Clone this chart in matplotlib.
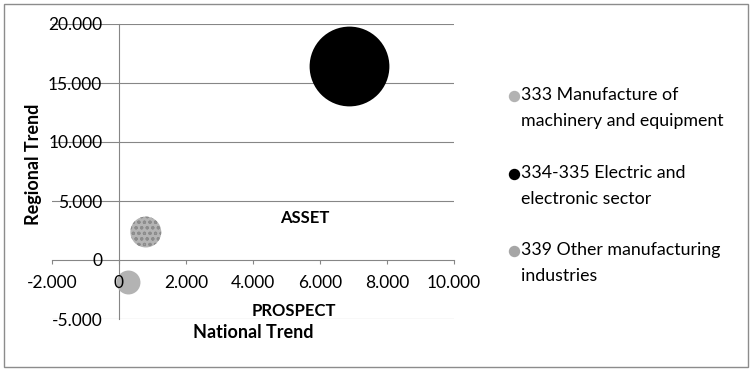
import matplotlib
matplotlib.use("Agg")
import matplotlib.pyplot as plt
from matplotlib.lines import Line2D
from matplotlib.patches import Rectangle
from matplotlib.ticker import FuncFormatter

plt.rcParams['font.family'] = ['Lato', 'DejaVu Sans']
plt.rcParams['hatch.linewidth'] = 0.8

# Bubble data: national trend (x), regional trend (y), relative bubble size
sectors = ["333 Manufacture of\nmachinery and equipment",
           "334-335 Electric and\nelectronic sector",
           "339 Other manufacturing\nindustries"]
national_trend = [270, 6870, 800]
regional_trend = [-1850, 16450, 2370]
bubble_size = [9, 100, 15]

x_ticks = [-2000, 0, 2000, 4000, 6000, 8000, 10000]
y_ticks = [-5000, 0, 5000, 10000, 15000, 20000]

W, H, DPI = 752, 371, 100
fig = plt.figure(figsize=(W / DPI, H / DPI), dpi=DPI)

def px(x, y):
    return x / W, 1 - y / H

left, top = px(52, 24)
right, bottom = px(454, 319)
ax = fig.add_axes([left, bottom, right - left, top - bottom])
ax.set_xlim(x_ticks[0], x_ticks[-1])
ax.set_ylim(y_ticks[0], y_ticks[-1])
ax.patch.set_visible(False)

grid_c = "#868686"
# horizontal gridlines behind bubbles
for yv in y_ticks:
    if yv != 0:
        ax.axhline(yv, color=grid_c, lw=0.8, zorder=0.5)

# bubbles (area proportional to size)
scale = 33.0
styles = [dict(color="#b3b3b3"),
          dict(color="#000000"),
          dict(color="#b4b4b4", hatch="ooo", edgecolor="#8c8c8c")]
for xv, yv, sv, st in zip(national_trend, regional_trend, bubble_size, styles):
    if "hatch" in st:
        ax.scatter([xv], [yv], s=sv * scale, facecolor=st["color"],
                   edgecolor=st["edgecolor"], hatch=st["hatch"], linewidth=0,
                   zorder=2)
    else:
        ax.scatter([xv], [yv], s=sv * scale, color=st["color"], linewidth=0,
                   zorder=2)

# axes crossing at the origin
for s in ["top", "right"]:
    ax.spines[s].set_visible(False)
ax.spines["left"].set_position(("data", 0))
ax.spines["bottom"].set_position(("data", 0))
for s in ["left", "bottom"]:
    ax.spines[s].set_color(grid_c)
    ax.spines[s].set_linewidth(0.8)
    ax.spines[s].set_zorder(1.5)

fmt = FuncFormatter(lambda v, p: "0" if v == 0 else f"{v:,.0f}".replace(",", "."))
ax.set_xticks(x_ticks)
ax.set_yticks(y_ticks)
ax.xaxis.set_major_formatter(fmt)
ax.yaxis.set_major_formatter(fmt)
ax.tick_params(axis="x", direction="out", length=3, width=0.8, color=grid_c,
               labelsize=12.5, pad=8)
ax.tick_params(axis="y", length=0, labelsize=12.5, pad=12)
ax.xaxis.set_zorder(3)
ax.yaxis.set_zorder(3)

# quadrant captions and axis titles
fig.text(*px(305, 218), "ASSET", fontsize=12, fontweight="bold",
         ha="center", va="center")
fig.text(*px(294, 311), "PROSPECT", fontsize=12, fontweight="bold",
         ha="center", va="center")
fig.text(*px(253, 333), "National Trend", fontsize=13, fontweight="bold",
         ha="center", va="center")
fig.text(*px(33, 164), "Regional Trend", fontsize=13, fontweight="bold",
         ha="center", va="center", rotation=90)

# legend
legend_colors = ["#b3b3b3", "#000000", "#a6a6a6"]
legend_y = [96, 174, 251]
for lab, c, ly in zip(sectors, legend_colors, legend_y):
    fig.add_artist(Line2D([514 / W], [1 - ly / H], marker="o", markersize=7.2,
                          color=c, linestyle="none", transform=fig.transFigure))
    fig.text(521 / W, 1 - (ly - 9) / H, lab, fontsize=12.8, ha="left",
             va="top", linespacing=1.75)

# outer frame
fig.add_artist(Rectangle((4 / W, 4 / H), 744 / W, 363 / H, fill=False,
                         edgecolor="#8c8c8c", lw=1, transform=fig.transFigure))

fig.savefig("out.png", dpi=DPI)
